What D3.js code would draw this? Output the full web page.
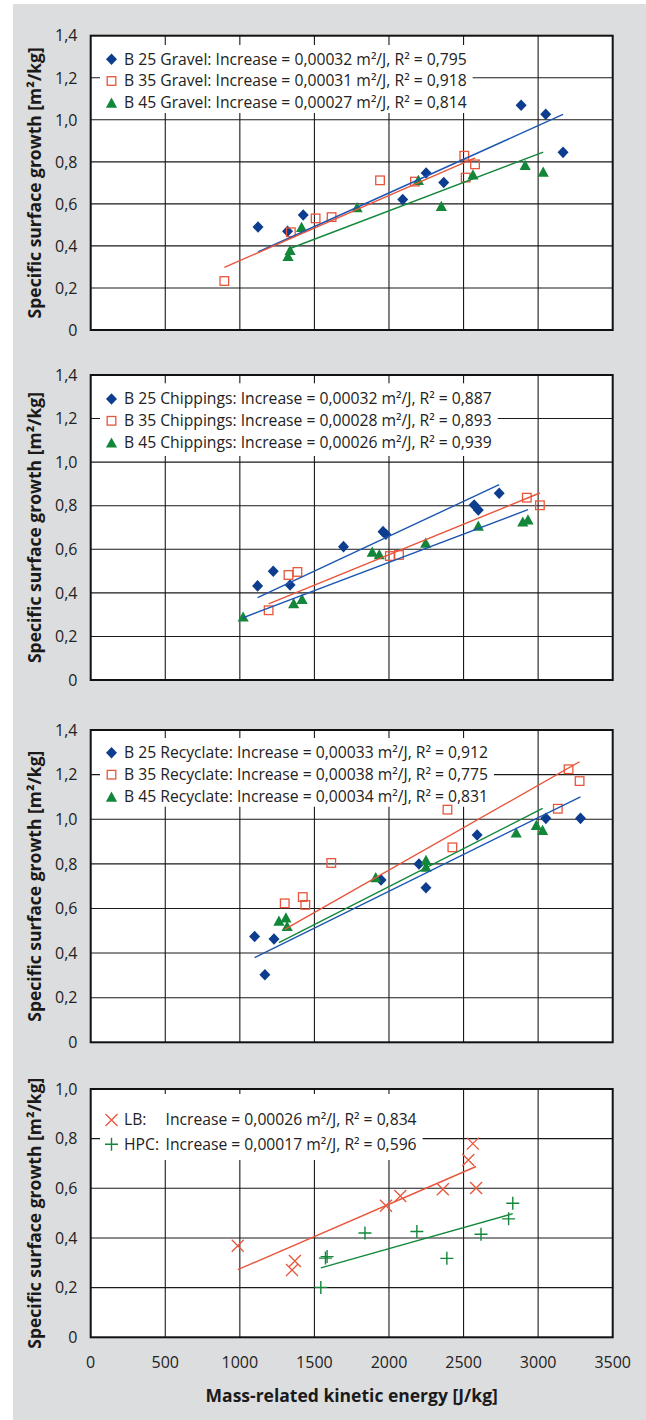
<!DOCTYPE html>
<html><head><meta charset="utf-8">
<script src="https://cdn.jsdelivr.net/npm/d3@7"></script>
<style>body{margin:0;background:#fff} svg{display:block}</style>
</head><body>
<svg id="c" width="646" height="1420"></svg>
<script>
// ---------- data ----------
const xTickValues = [0, 500, 1000, 1500, 2000, 2500, 3000, 3500];
const yTicksMain = [0, 0.2, 0.4, 0.6, 0.8, 1.0, 1.2, 1.4];
const yTicksLast = [0, 0.2, 0.4, 0.6, 0.8, 1.0];

const gravelB25 = [[1122,0.49],[1320,0.47],[1425,0.547],[2092,0.621],[2249,0.747],[2367,0.702],[2886,1.069],[3051,1.026],[3167,0.845]];
const gravelB35 = [[896,0.233],[1342,0.465],[1508,0.531],[1615,0.537],[1940,0.712],[2174,0.706],[2505,0.829],[2514,0.725],[2577,0.788]];
const gravelB45 = [[1323,0.352],[1337,0.38],[1414,0.49],[1786,0.584],[2197,0.714],[2351,0.59],[2563,0.74],[2913,0.785],[3034,0.753]];
const gravelLabels = ["B 25 Gravel: Increase = 0,00032 m²/J, R² = 0,795","B 35 Gravel: Increase = 0,00031 m²/J, R² = 0,918","B 45 Gravel: Increase = 0,00027 m²/J, R² = 0,814"];
const gravelSlopes = [0.00032, 0.00031, 0.00027];
const gravelIntercepts = [0.012, 0.020, 0.027];

const chipB25 = [[1119,0.432],[1224,0.499],[1337,0.436],[1695,0.612],[1960,0.681],[1979,0.669],[2571,0.803],[2599,0.78],[2739,0.857]];
const chipB35 = [[1193,0.32],[1326,0.482],[1386,0.496],[2006,0.569],[2067,0.574],[2924,0.837],[3012,0.802]];
const chipB45 = [[1022,0.291],[1361,0.352],[1417,0.372],[1888,0.589],[1935,0.577],[2246,0.63],[2599,0.708],[2897,0.727],[2932,0.737]];
const chipLabels = ["B 25 Chippings: Increase = 0,00032 m²/J, R² = 0,887","B 35 Chippings: Increase = 0,00028 m²/J, R² = 0,893","B 45 Chippings: Increase = 0,00026 m²/J, R² = 0,939"];
const chipSlopes = [0.00032, 0.00028, 0.00026];
const chipIntercepts = [0.020, 0.015, 0.020];

const recB25 = [[1099,0.474],[1168,0.303],[1229,0.463],[1947,0.728],[2201,0.799],[2248,0.693],[2591,0.929],[3052,1.004],[3284,1.004]];
const recB35 = [[1301,0.623],[1422,0.651],[1439,0.616],[1613,0.804],[2392,1.043],[2425,0.874],[3132,1.047],[3204,1.224],[3278,1.171]];
const recB45 = [[1262,0.545],[1309,0.56],[1317,0.521],[1911,0.74],[2248,0.817],[2248,0.787],[2853,0.94],[2988,0.974],[3030,0.952]];
const recLabels = ["B 25 Recyclate: Increase = 0,00033 m²/J, R² = 0,912","B 35 Recyclate: Increase = 0,00038 m²/J, R² = 0,775","B 45 Recyclate: Increase = 0,00034 m²/J, R² = 0,831"];
const recSlopes = [0.00033, 0.00038, 0.00034];
const recIntercepts = [0.017, 0.012, 0.018];

const lbData = [[986,0.369],[1350,0.271],[1369,0.307],[1980,0.53],[2076,0.569],[2361,0.596],[2532,0.714],[2562,0.78],[2584,0.601]];
const hpcData = [[1543,0.201],[1574,0.319],[1585,0.325],[1839,0.42],[2187,0.426],[2388,0.318],[2617,0.415],[2802,0.477],[2830,0.54]];
const lastNames = ["LB:", "HPC:"];
const lastLabels = ["Increase = 0,00026 m²/J, R² = 0,834","Increase = 0,00017 m²/J, R² = 0,596"];
const lastSlopes = [0.00026, 0.00017];
const lastIntercepts = [0.016, 0.017];

const yTitle = "Specific surface growth [m²/kg]";
const xTitle = "Mass-related kinetic energy [J/kg]";

// ---------- styles ----------
const BLUE = "#0d3d8e", BLUE_LINE = "#1d56b2", ORANGE = "#e8553a", GREEN = "#12873a";
const FONT = "'Open Sans', 'Noto Sans', sans-serif";
const LEG_FS = 15.7;

const svg = d3.select('#c');
svg.append('rect').attr('x', 13).attr('y', 4).attr('width', 633).attr('height', 1416).attr('fill', '#dcdddf');

const plotLeft = 90.7, plotRight = 612.7;
const x = d3.scaleLinear().domain([0, 3500]).range([plotLeft, plotRight]);

function marker(g, type, cx, cy) {
  const t = `translate(${cx},${cy})`;
  if (type === 'diamond') g.append('path').attr('d', 'M0,-5.8L5.5,0L0,5.8L-5.5,0Z').attr('fill', BLUE).attr('transform', t);
  else if (type === 'square') g.append('rect').attr('x', cx - 4.3).attr('y', cy - 4.3).attr('width', 8.6).attr('height', 8.6).attr('fill', 'none').attr('stroke', ORANGE).attr('stroke-width', 1.3);
  else if (type === 'triangle') g.append('path').attr('d', 'M0,-5.2L5.6,5L-5.6,5Z').attr('fill', GREEN).attr('transform', t);
  else if (type === 'cross') g.append('path').attr('d', 'M-6,-6L6,6M-6,6L6,-6').attr('stroke', ORANGE).attr('stroke-width', 1.3).attr('fill', 'none').attr('transform', t);
  else if (type === 'plus') g.append('path').attr('d', 'M-6.5,0L6.5,0M0,-6.5L0,6.5').attr('stroke', GREEN).attr('stroke-width', 1.4).attr('fill', 'none').attr('transform', t);
}

const mk3 = (a, b, c, labels, slopes, ints, lineCols) => [
  {data: a, type: 'diamond', label: labels[0], slope: slopes[0], icpt: ints[0], line: lineCols[0]},
  {data: b, type: 'square', label: labels[1], slope: slopes[1], icpt: ints[1], line: lineCols[1]},
  {data: c, type: 'triangle', label: labels[2], slope: slopes[2], icpt: ints[2], line: lineCols[2]}
];

const panels = [
  {top: 35.7, bottom: 330, yMax: 1.4, ticks: yTicksMain,
   series: mk3(gravelB25, gravelB35, gravelB45, gravelLabels, gravelSlopes, gravelIntercepts, [BLUE_LINE, ORANGE, GREEN]),
   leg: {top: 45, bottom: 113, row1: 59.3, step: 21.7}},
  {top: 375, bottom: 680, yMax: 1.4, ticks: yTicksMain,
   series: mk3(chipB25, chipB35, chipB45, chipLabels, chipSlopes, chipIntercepts, [BLUE_LINE, ORANGE, BLUE_LINE]),
   leg: {top: 383.3, bottom: 456, row1: 399, step: 21.8}},
  {top: 730, bottom: 1042.3, yMax: 1.4, ticks: yTicksMain,
   series: mk3(recB25, recB35, recB45, recLabels, recSlopes, recIntercepts, [BLUE_LINE, ORANGE, GREEN]),
   leg: {top: 738, bottom: 806.7, row1: 752.7, step: 22}},
  {top: 1089, bottom: 1337.3, yMax: 1.0, ticks: yTicksLast,
   series: [
     {data: lbData, type: 'cross', name: lastNames[0], label: lastLabels[0], slope: lastSlopes[0], icpt: lastIntercepts[0], line: ORANGE},
     {data: hpcData, type: 'plus', name: lastNames[1], label: lastLabels[1], slope: lastSlopes[1], icpt: lastIntercepts[1], line: GREEN}
   ],
   leg: {top: 1094, bottom: 1160, row1: 1120, step: 24.3}, last: true}
];

const fmtY = v => v === 0 ? "0" : d3.format(".1f")(v).replace('.', ',');

panels.forEach(p => {
  const y = d3.scaleLinear().domain([0, p.yMax]).range([p.bottom, p.top]);
  const g = svg.append('g');
  g.append('rect').attr('x', plotLeft).attr('y', p.top).attr('width', plotRight - plotLeft).attr('height', p.bottom - p.top).attr('fill', '#fff');

  // grid
  g.selectAll(null).data(p.ticks.filter(t => t > 0 && t < p.yMax)).enter().append('line')
    .attr('x1', plotLeft).attr('x2', plotRight).attr('y1', d => y(d)).attr('y2', d => y(d))
    .attr('stroke', '#1a1a1a').attr('stroke-width', 1.1);
  g.selectAll(null).data(xTickValues.filter(t => t > 0 && t < 3500)).enter().append('line')
    .attr('y1', p.top).attr('y2', p.bottom).attr('x1', d => x(d)).attr('x2', d => x(d))
    .attr('stroke', '#1a1a1a').attr('stroke-width', 1.1);

  // legend
  const lg = g.append('g');
  const lbox = lg.append('rect').attr('x', 100).attr('y', p.leg.top).attr('height', p.leg.bottom - p.leg.top).attr('fill', '#fff');
  let maxRight = 0;
  p.series.forEach((s, i) => {
    const ry = p.leg.row1 + i * p.leg.step;
    marker(lg, s.type, 111.5, ry);
    if (s.name) {
      lg.append('text').attr('x', 124).attr('y', ry).attr('dy', '0.35em').attr('font-family', FONT).attr('font-size', LEG_FS).attr('fill', '#222').text(s.name);
      const t = lg.append('text').attr('x', 165.5).attr('y', ry).attr('dy', '0.35em').attr('font-family', FONT).attr('font-size', LEG_FS).attr('fill', '#222').text(s.label);
      maxRight = Math.max(maxRight, 165.5 + t.node().getComputedTextLength());
    } else {
      const t = lg.append('text').attr('x', 124).attr('y', ry).attr('dy', '0.35em').attr('font-family', FONT).attr('font-size', LEG_FS).attr('fill', '#222').text(s.label);
      maxRight = Math.max(maxRight, 124 + t.node().getComputedTextLength());
    }
  });
  lbox.attr('width', maxRight + 6 - 100);

  // markers
  p.series.forEach(s => {
    s.data.forEach(d => marker(g, s.type, x(d[0]), y(d[1])));
  });
  // trend lines
  p.series.forEach(s => {
    const ext = d3.extent(s.data, d => d[0]);
    g.append('line')
      .attr('x1', x(ext[0])).attr('x2', x(ext[1]))
      .attr('y1', y(s.icpt + s.slope * ext[0])).attr('y2', y(s.icpt + s.slope * ext[1]))
      .attr('stroke', s.line).attr('stroke-width', 1.4);
  });

  // frame
  g.append('rect').attr('x', plotLeft).attr('y', p.top).attr('width', plotRight - plotLeft).attr('height', p.bottom - p.top)
    .attr('fill', 'none').attr('stroke', '#111').attr('stroke-width', 2);

  // y ticks
  g.selectAll(null).data(p.ticks).enter().append('text')
    .attr('x', 77.5).attr('y', d => y(d)).attr('dy', '0.36em').attr('text-anchor', 'end')
    .attr('font-family', FONT).attr('font-size', 16).attr('fill', '#222').text(fmtY);

  // y title
  g.append('text').attr('transform', `translate(41,${(p.top + p.bottom) / 2}) rotate(-90)`)
    .attr('text-anchor', 'middle').attr('font-family', FONT).attr('font-weight', 700).attr('font-size', 17.5).attr('fill', '#1a1a1a').text(yTitle);

  if (p.last) {
    g.selectAll(null).data(xTickValues).enter().append('text')
      .attr('x', d => x(d)).attr('y', p.bottom + 25).attr('dy', '0.36em').attr('text-anchor', 'middle')
      .attr('font-family', FONT).attr('font-size', 16).attr('fill', '#222').text(d => d);
    g.append('text').attr('x', (plotLeft + plotRight) / 2).attr('y', 1402).attr('text-anchor', 'middle')
      .attr('font-family', FONT).attr('font-weight', 700).attr('font-size', 17.5).attr('fill', '#1a1a1a').text(xTitle);
  }
});
</script>
</body></html>
